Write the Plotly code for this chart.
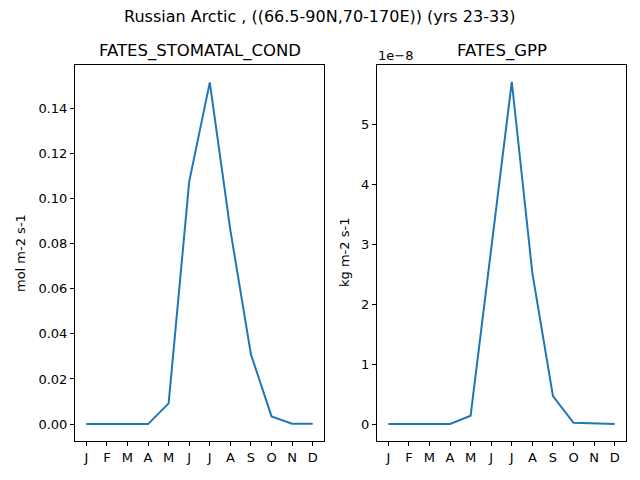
import plotly.graph_objects as go

MONTHS = ["J", "F", "M", "A", "M", "J", "J", "A", "S", "O", "N", "D"]
STOMATAL_COND = [0.0, 0.0, 0.0, 0.0, 0.0092, 0.1075, 0.1515, 0.086, 0.0309, 0.0034, 0.0002, 0.0001]
GPP = [0.0, 0.0, 0.0, 0.0, 0.139e-8, 2.95e-8, 5.72e-8, 2.52e-8, 0.468e-8, 0.02e-8, 0.005e-8, 0.002e-8]

COND_TICKS = [0.0, 0.02, 0.04, 0.06, 0.08, 0.10, 0.12, 0.14]
GPP_TICKS = [0, 1, 2, 3, 4, 5]

FONT = "DejaVu Sans"
BLUE = "#1f77b4"
W, H = 632, 472  # page body keeps an 8px margin
x = list(range(12))


def px(p):
    return (p - 8) / W


def py(p):
    return 1 - (p - 8) / H


fig = go.Figure()
fig.add_trace(go.Scatter(x=x, y=STOMATAL_COND, mode="lines", line=dict(color=BLUE, width=2),
                         xaxis="x", yaxis="y", showlegend=False))
fig.add_trace(go.Scatter(x=x, y=GPP, mode="lines", line=dict(color=BLUE, width=2),
                         xaxis="x2", yaxis="y2", showlegend=False))

axis_style = dict(showgrid=False, zeroline=False, showline=True, mirror=True,
                  linecolor="black", linewidth=1, ticks="outside", ticklen=4,
                  tickcolor="black", tickfont=dict(family=FONT, size=13, color="black"))

ydom = [py(441), py(65)]
fig.update_layout(
    width=W, height=H,
    margin=dict(l=0, r=0, t=0, b=0),
    plot_bgcolor="white", paper_bgcolor="white",
    font=dict(family=FONT, color="black"),
    xaxis=dict(domain=[px(75), px(324)], range=[-0.55, 11.55], tickvals=x, ticktext=MONTHS,
               anchor="y", **axis_style),
    yaxis=dict(domain=ydom, range=[-0.0075, 0.1592], tickvals=COND_TICKS,
               tickformat=".2f", anchor="x", **axis_style),
    xaxis2=dict(domain=[px(377), px(626)], range=[-0.55, 11.55], tickvals=x, ticktext=MONTHS,
                anchor="y2", **axis_style),
    yaxis2=dict(domain=ydom, range=[-0.284e-8, 6.0e-8],
                tickvals=[t * 1e-8 for t in GPP_TICKS], ticktext=[str(t) for t in GPP_TICKS],
                anchor="x2", **axis_style),
    annotations=[
        dict(text="Russian Arctic , ((66.5-90N,70-170E)) (yrs 23-33)", x=px(320), y=py(17),
             font=dict(size=16)),
        dict(text="FATES_STOMATAL_COND", x=px(199.5), y=py(51), font=dict(size=16.5)),
        dict(text="FATES_GPP", x=px(501.5), y=py(51), font=dict(size=16.5)),
        dict(text="1e\u22128", x=px(376), y=py(56), font=dict(size=13), xanchor="left"),
        dict(text="mol m-2 s-1", x=px(21), y=py(253), textangle=-90, font=dict(size=13)),
        dict(text="kg m-2 s-1", x=px(345), y=py(253), textangle=-90, font=dict(size=13)),
    ],
)
fig.update_annotations(xref="paper", yref="paper", showarrow=False, yanchor="middle")
for a in fig.layout.annotations:
    if a.xanchor is None:
        a.xanchor = "center"

fig.write_html("out.html")
